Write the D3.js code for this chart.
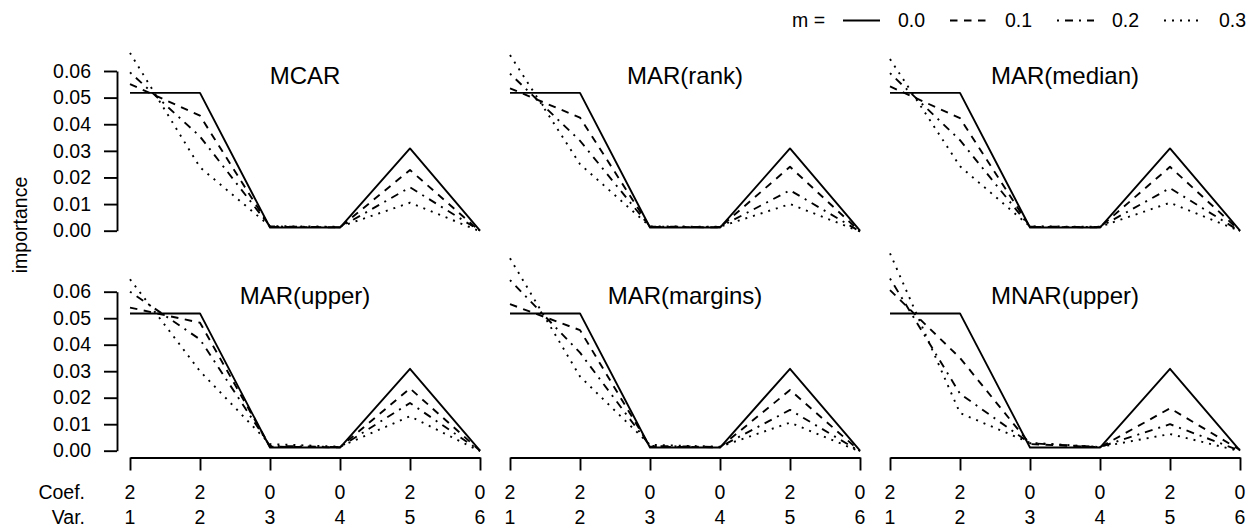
<!DOCTYPE html>
<html>
<head>
<meta charset="utf-8">
<script src="https://cdn.jsdelivr.net/npm/d3@7"></script>
<style>
  html, body { margin: 0; padding: 0; background: #fff; }
  svg { display: block; font-family: "Liberation Sans", Arial, sans-serif; }
</style>
</head>
<body>
<svg id="chart" width="1260" height="532"></svg>
<script>
// ---------------- data ----------------
const variables = ["1", "2", "3", "4", "5", "6"];
const coefficients = ["2", "2", "0", "0", "2", "0"];
const mLevels = ["0.0", "0.1", "0.2", "0.3"];
const panelTitles = ["MCAR", "MAR(rank)", "MAR(median)", "MAR(upper)", "MAR(margins)", "MNAR(upper)"];
const yTickValues = [0.00, 0.01, 0.02, 0.03, 0.04, 0.05, 0.06];

// each panel: rows = m levels (0.0, 0.1, 0.2, 0.3), columns = variables 1..6
const mcar = [
  [0.0518, 0.0518, 0.0012, 0.0012, 0.0309, 0.0000],
  [0.0551, 0.0432, 0.0014, 0.0013, 0.0228, -0.0002],
  [0.0595, 0.0354, 0.0016, 0.0013, 0.0163, 0.0000],
  [0.0668, 0.0238, 0.0017, 0.0015, 0.0105, -0.0002]
];
const marRank = [
  [0.0518, 0.0518, 0.0012, 0.0012, 0.0309, 0.0000],
  [0.0535, 0.0425, 0.0014, 0.0013, 0.0240, -0.0003],
  [0.0590, 0.0338, 0.0015, 0.0014, 0.0152, -0.0003],
  [0.0660, 0.0250, 0.0016, 0.0015, 0.0100, -0.0003]
];
const marMedian = [
  [0.0518, 0.0518, 0.0012, 0.0012, 0.0309, 0.0000],
  [0.0542, 0.0423, 0.0014, 0.0013, 0.0240, -0.0001],
  [0.0592, 0.0340, 0.0015, 0.0014, 0.0160, -0.0002],
  [0.0645, 0.0242, 0.0016, 0.0015, 0.0105, -0.0002]
];
const marUpper = [
  [0.0518, 0.0518, 0.0012, 0.0012, 0.0309, 0.0000],
  [0.0540, 0.0483, 0.0015, 0.0013, 0.0235, 0.0000],
  [0.0600, 0.0420, 0.0018, 0.0014, 0.0180, 0.0000],
  [0.0647, 0.0300, 0.0025, 0.0015, 0.0130, -0.0002]
];
const marMargins = [
  [0.0518, 0.0518, 0.0012, 0.0012, 0.0309, 0.0000],
  [0.0553, 0.0455, 0.0015, 0.0013, 0.0229, -0.0002],
  [0.0644, 0.0370, 0.0018, 0.0014, 0.0154, -0.0003],
  [0.0726, 0.0280, 0.0022, 0.0015, 0.0106, -0.0003]
];
const mnarUpper = [
  [0.0518, 0.0518, 0.0012, 0.0012, 0.0309, 0.0000],
  [0.0606, 0.0350, 0.0025, 0.0013, 0.0160, 0.0003],
  [0.0650, 0.0215, 0.0028, 0.0014, 0.0100, 0.0000],
  [0.0745, 0.0142, 0.0030, 0.0014, 0.0063, -0.0002]
];
const panelData = [mcar, marRank, marMedian, marUpper, marMargins, mnarUpper];

// ---------------- layout / styles ----------------
const FONT = 19.5;
const LW = 1.9;
const dashes = ["none", "7.5,6.5", "2,6,8,6", "2,6"];
const colX = [[130, 480], [510, 860], [890, 1240]];
const rowY = [[230.7, 71], [450.7, 291.7]];
const svg = d3.select("#chart");

panelData.forEach((series, i) => {
  const col = i % 3, row = Math.floor(i / 3);
  const x = d3.scalePoint().domain(variables).range(colX[col]).padding(0);
  const y = d3.scaleLinear().domain([0, 0.06]).range(rowY[row]);
  const g = svg.append("g");

  const line = d3.line()
    .x((d, k) => x(variables[k]))
    .y(d => y(d));

  series.forEach((vals, s) => {
    g.append("path")
      .datum(vals)
      .attr("d", line)
      .attr("fill", "none")
      .attr("stroke", "#000")
      .attr("stroke-width", LW)
      .attr("stroke-linejoin", "round")
      .attr("stroke-dasharray", dashes[s]);
  });

  g.append("text")
    .attr("x", (colX[col][0] + colX[col][1]) / 2)
    .attr("y", y(0.06) + 12.5)
    .attr("text-anchor", "middle")
    .attr("font-size", 24)
    .text(panelTitles[i]);

  if (col === 0) {
    const ax = g.append("g")
      .attr("transform", "translate(117,0)")
      .call(d3.axisLeft(y).tickValues(yTickValues).tickFormat(d3.format(".2f"))
        .tickSize(13).tickSizeOuter(0).tickPadding(13));
    ax.selectAll("path, line").attr("stroke", "#000").attr("stroke-width", 1.9);
    ax.selectAll("text").attr("font-size", FONT).attr("fill", "#000")
      .attr("font-family", "Liberation Sans, Arial, sans-serif");
  }

  if (row === 1) {
    const ax = g.append("g")
      .attr("transform", "translate(0,457.5)")
      .call(d3.axisBottom(x).tickSize(13).tickSizeOuter(0).tickFormat(""));
    ax.selectAll("path, line").attr("stroke", "#000").attr("stroke-width", 1.9);
    g.selectAll(".coef").data(variables).enter().append("text")
      .attr("x", d => x(d)).attr("y", 499)
      .attr("text-anchor", "middle").attr("font-size", FONT)
      .text((d, k) => coefficients[k]);
    g.selectAll(".var").data(variables).enter().append("text")
      .attr("x", d => x(d)).attr("y", 524)
      .attr("text-anchor", "middle").attr("font-size", FONT)
      .text(d => d);
  }
});

// row labels for the x axis
svg.append("text").attr("x", 85).attr("y", 499).attr("text-anchor", "end")
  .attr("font-size", FONT).text("Coef.");
svg.append("text").attr("x", 85).attr("y", 524).attr("text-anchor", "end")
  .attr("font-size", FONT).text("Var.");

// y axis title
svg.append("text")
  .attr("transform", "translate(27,225) rotate(-90)")
  .attr("text-anchor", "middle")
  .attr("font-size", FONT)
  .text("importance");

// legend
const legend = svg.append("g");
legend.append("text").attr("x", 792).attr("y", 27).attr("font-size", FONT).text("m =");
mLevels.forEach((lab, s) => {
  const x0 = 843 + 107 * s;
  legend.append("line")
    .attr("x1", x0).attr("x2", x0 + 37).attr("y1", 20.5).attr("y2", 20.5)
    .attr("stroke", "#000").attr("stroke-width", LW)
    .attr("stroke-dasharray", dashes[s]);
  legend.append("text").attr("x", x0 + 55).attr("y", 27)
    .attr("font-size", FONT).text(lab);
});
</script>
</body>
</html>
